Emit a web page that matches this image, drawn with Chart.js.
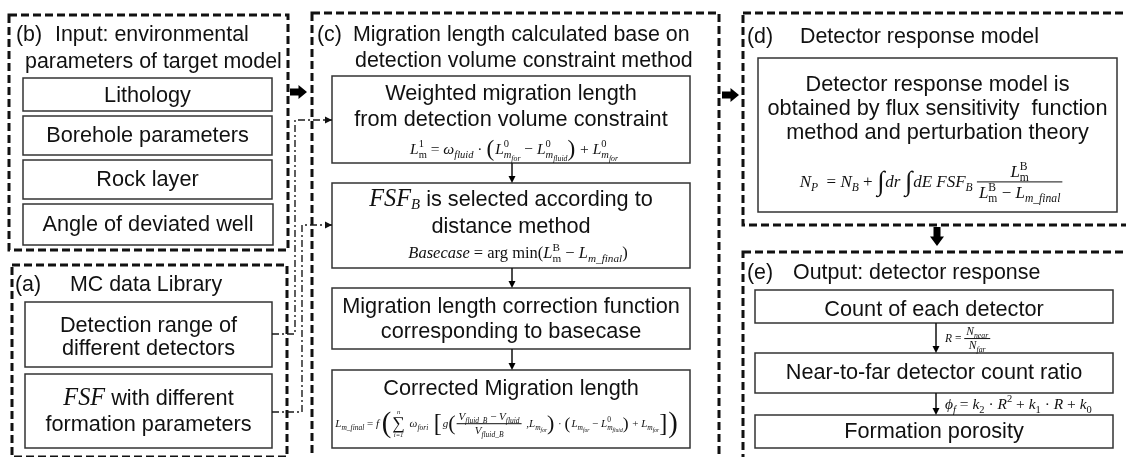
<!DOCTYPE html>
<html>
<head>
<meta charset="utf-8">
<script src="https://cdn.jsdelivr.net/npm/chart.js@4.4.0/dist/chart.umd.min.js"></script>
<style>
  html, body { margin: 0; padding: 0; background: #fff; }
  canvas { display: block; }
</style>
</head>
<body>
<canvas id="flowChart" width="1126" height="457"></canvas>
<script>
// ---- text content ----
const panelTags = ['(b)', '(a)', '(c)', '(d)', '(e)'];
const panelTitles = [
    ['Input: environmental', 'parameters of target model'],
    ['MC data Library'],
    ['Migration length calculated base on', 'detection volume constraint method'],
    ['Detector response model'],
    ['Output: detector response']
];
const inputItems = [['Lithology'], ['Borehole parameters'], ['Rock layer'], ['Angle of deviated well']];
const libraryItems = [
    ['Detection range of', 'different detectors'],
    [[['FSF', 'I'], [' with different', 'S']], 'formation parameters']
];
const migrationSteps = [
    ['Weighted migration length', 'from detection volume constraint'],
    [[['FSF', 'I'], ['B', 'b'], [' is selected according to', 'S']], 'distance method'],
    ['Migration length correction function', 'corresponding to basecase'],
    ['Corrected Migration length']
];
const responseText = ['Detector response model is', 'obtained by flux sensitivity  function', 'method and perturbation theory'];
const outputSteps = [['Count of each detector'], ['Near-to-far detector count ratio'], ['Formation porosity']];

// ---- formulas (segment lists) ----
const fWeighted = [['L','i'],['1','p'],['m','B'],[' = ','r'],['ω','i'],['fluid','b'],[' · ','r'],{big:'(',s:1.5},
    ['L','i'],['0','p'],['m','b'],['for','bb'],[' − ','r'],['L','i'],['0','p'],['m','b'],['fluid','bb'],{big:')',s:1.5},
    [' + ','r'],['L','i'],['0','p'],['m','b'],['for','bb']];
const fBasecase = [['Basecase','i'],[' = arg min(','r'],['L','i'],['B','p'],['m','B'],[' − ','r'],['L','i'],['m_final','b'],[')','r']];
const fResponse = [['N','i'],['P','b'],['  = ','r'],['N','i'],['B','b'],[' + ','r'],{big:'∫',s:1.6},['dr ','i'],{big:'∫',s:1.6},
    ['dE FSF','i'],['B','b'],[' ','r'],
    {frac:true, n:[['L','i'],['B','p'],['m','B']], d:[['L','i'],['B','p'],['m','B'],[' − ','r'],['L','i'],['m_final','b']]}];
const fCorrected = [['L','i'],['m_final','b'],[' = ','r'],['f','i'],[' ','r'],{big:'(',s:2.6},{sum:'∑',lo:'i=1',hi:'n'},[' ','r'],['ω','i'],['fori','b'],['  ','r'],{big:'[',s:2.2},
    ['g','i'],{big:'(',s:2.0},{frac:true, n:[['V','i'],['fluid_B','b'],[' − ','r'],['V','i'],['fluid','b']], d:[['V','i'],['fluid_B','b']]},
    [' ,','r'],['L','i'],['m','b'],['for','bb'],{big:')',s:2.0},[' · ','r'],{big:'(',s:1.6},['L','i'],['m','b'],['for','bb'],[' − ','r'],
    ['L','i'],['0','p'],['m','b'],['fluid','bb'],{big:')',s:1.6},[' + ','r'],['L','i'],['m','b'],['for','bb'],{big:']',s:2.2},{big:')',s:2.6}];
const fRatio = [['R','i'],[' = ','r'],{frac:true, n:[['N','i'],['near','b']], d:[['N','i'],['far','b']]}];
const fPorosity = [['ϕ','i'],['f','b'],[' = ','r'],['k','i'],['2','B'],[' · ','r'],['R','i'],['2','P'],[' + ','r'],['k','i'],['1','B'],[' · ','r'],['R','i'],[' + ','r'],['k','i'],['0','B']];

// ---- layout (diagram units = pixels of the reference) ----
const panelRects = [[9, 15, 288, 250], [12, 265, 287, 457], [312, 13, 719, 462], [743, 13, 1130, 225], [743, 252, 1130, 462]];
const tagPos = [[16, 35], [15, 285], [317, 35], [747, 37], [747, 273]];
const titlePos = [[[55, 35], [25, 62]], [[70, 285]], [[353, 35], [355, 61]], [[800, 37]], [[793, 273]]];

const inputBoxes = [[23, 78, 272, 111], [23, 116, 272, 155], [23, 160, 272, 199], [23, 204, 273, 245]];
const inputLineY = [[96], [136], [180], [225]];
const libraryBoxes = [[25, 302, 272, 367], [25, 374, 272, 448]];
const libraryLineY = [[326, 349], [399, 425]];
const stepBoxes = [[332, 76, 690, 163], [332, 183, 690, 268], [332, 288, 690, 349], [332, 370, 690, 448]];
const stepLineY = [[94, 120], [200, 227], [307, 332], [389]];
const responseBox = [758, 58, 1117, 212];
const responseLineY = [85, 109, 133];
const outputBoxes = [[755, 290, 1113, 323], [755, 353, 1113, 393], [755, 415, 1113, 448]];
const outputLineY = [310, 373, 432];

const formulaPlaces = [
    {f: fWeighted, cx: 514, y: 154, size: 15.5},
    {f: fBasecase, cx: 518, y: 258, size: 16.5},
    {f: fResponse, cx: 932, y: 187, size: 17},
    {f: fCorrected, cx: 507, y: 427, size: 11},
    {f: fRatio, x: 945, y: 342, size: 11.5},
    {f: fPorosity, x: 945, y: 409, size: 15.5}
];

const blockArrows = [[290, 92, 307, 92], [722, 95, 739, 95], [937, 227, 937, 246]];
const thinArrows = [[512, 163, 512, 183], [512, 268, 512, 288], [512, 349, 512, 370], [936, 323, 936, 353], [936, 393, 936, 415]];
const links = [
    [[272, 334], [295, 334], [295, 120], [332, 120]],
    [[272, 412], [302, 412], [302, 225], [332, 225]]
];

const SANS = '"Liberation Sans", Arial, sans-serif';
const SERIF = '"Liberation Serif", "Times New Roman", serif';
const STY = {
    S:  {fam: SANS, s: 1, dy: 0},
    I:  {fam: SERIF, it: true, s: 1.12, dy: 0},
    i:  {fam: SERIF, it: true, s: 1, dy: 0},
    r:  {fam: SERIF, s: 1, dy: 0},
    b:  {fam: SERIF, it: true, s: 0.68, dy: 0.25},
    B:  {fam: SERIF, s: 0.68, dy: 0.25},
    p:  {fam: SERIF, s: 0.68, dy: -0.42, hold: true},
    P:  {fam: SERIF, s: 0.68, dy: -0.42},
    bb: {fam: SERIF, it: true, s: 0.5, dy: 0.45}
};

function mathRun(ctx, items, x, y, size, draw) {
    let cx = x, pend = 0;
    for (const it of items) {
        if (Array.isArray(it)) {
            const st = STY[it[1]];
            ctx.font = (st.it ? 'italic ' : '') + (size * st.s).toFixed(1) + 'px ' + st.fam;
            const w = ctx.measureText(it[0]).width;
            if (draw) ctx.fillText(it[0], cx, y + st.dy * size);
            if (st.hold) { pend = Math.max(pend, w); continue; }
            cx += Math.max(w, pend); pend = 0;
        } else if (it.big) {
            const bs = size * it.s;
            ctx.font = bs.toFixed(1) + 'px ' + SERIF;
            const w = ctx.measureText(it.big).width;
            if (draw) ctx.fillText(it.big, cx, y + (bs - size) * 0.3);
            cx += w + 1;
        } else if (it.sum) {
            const bs = size * 1.6;
            ctx.font = bs.toFixed(1) + 'px ' + SERIF;
            const w = ctx.measureText(it.sum).width;
            if (draw) {
                ctx.fillText(it.sum, cx, y + size * 0.2);
                ctx.font = 'italic ' + (size * 0.6).toFixed(1) + 'px ' + SERIF;
                ctx.textAlign = 'center';
                ctx.fillText(it.hi, cx + w / 2, y - size * 1.15);
                ctx.fillText(it.lo, cx + w / 2, y + size * 0.9);
                ctx.textAlign = 'left';
            }
            cx += w + 2;
        } else if (it.frac) {
            const wn = mathRun(ctx, it.n, 0, 0, size, false);
            const wd = mathRun(ctx, it.d, 0, 0, size, false);
            const W = Math.max(wn, wd) + 4;
            if (draw) {
                const axis = y - size * 0.3;
                mathRun(ctx, it.n, cx + (W - wn) / 2, axis - size * 0.3, size, true);
                mathRun(ctx, it.d, cx + (W - wd) / 2, axis + size * 0.95, size, true);
                ctx.fillRect(cx, axis - 0.5, W, 1);
            }
            cx += W + 2;
        }
    }
    return cx - x;
}

function richLine(ctx, line, cx, y, size) {
    const segs = typeof line === 'string' ? [[line, 'S']] : line;
    const w = mathRun(ctx, segs, 0, 0, size, false);
    mathRun(ctx, segs, cx - w / 2, y, size, true);
}

const diagramPlugin = {
    id: 'diagram',
    afterDraw(chart) {
        const ctx = chart.ctx;
        const X = v => chart.scales.x.getPixelForValue(v);
        const Y = v => chart.scales.y.getPixelForValue(v);
        ctx.save();
        ctx.textBaseline = 'middle';
        ctx.fillStyle = '#111';
        ctx.strokeStyle = '#111';

        // dashed panels
        ctx.lineWidth = 3;
        ctx.setLineDash([8, 4]);
        panelRects.forEach(r => ctx.strokeRect(X(r[0]), Y(r[1]), X(r[2]) - X(r[0]), Y(r[3]) - Y(r[1])));
        ctx.setLineDash([]);

        // panel titles
        ctx.textAlign = 'left';
        ctx.font = '21.4px ' + SANS;
        panelTags.forEach((t, i) => {
            ctx.fillText(t, X(tagPos[i][0]), Y(tagPos[i][1]));
            panelTitles[i].forEach((line, j) => ctx.fillText(line, X(titlePos[i][j][0]), Y(titlePos[i][j][1])));
        });

        // solid boxes with centred text
        ctx.lineWidth = 1.5;
        ctx.strokeStyle = '#333';
        function boxes(rects, texts, ys) {
            rects.forEach((r, i) => {
                ctx.strokeRect(X(r[0]), Y(r[1]), X(r[2]) - X(r[0]), Y(r[3]) - Y(r[1]));
                texts[i].forEach((line, j) => richLine(ctx, line, X((r[0] + r[2]) / 2), Y(ys[i][j]), 21.7));
            });
        }
        boxes(inputBoxes, inputItems, inputLineY);
        boxes(libraryBoxes, libraryItems, libraryLineY);
        boxes(stepBoxes, migrationSteps, stepLineY);
        boxes([responseBox], [responseText], [responseLineY]);
        boxes(outputBoxes, outputSteps, outputLineY.map(v => [v]));

        // formulas
        ctx.textBaseline = 'alphabetic';
        ctx.textAlign = 'left';
        formulaPlaces.forEach(p => {
            const w = mathRun(ctx, p.f, 0, 0, p.size, false);
            const x0 = p.cx !== undefined ? X(p.cx) - w / 2 : X(p.x);
            mathRun(ctx, p.f, x0, Y(p.y), p.size, true);
        });

        // block arrows
        ctx.fillStyle = '#000';
        blockArrows.forEach(a => {
            const x0 = X(a[0]), y0 = Y(a[1]), x1 = X(a[2]), y1 = Y(a[3]);
            const len = Math.hypot(x1 - x0, y1 - y0);
            ctx.save();
            ctx.translate(x0, y0);
            ctx.rotate(Math.atan2(y1 - y0, x1 - x0));
            const head = len * 0.5;
            ctx.beginPath();
            ctx.moveTo(0, -3.5); ctx.lineTo(len - head, -3.5); ctx.lineTo(len - head, -7);
            ctx.lineTo(len, 0);
            ctx.lineTo(len - head, 7); ctx.lineTo(len - head, 3.5); ctx.lineTo(0, 3.5);
            ctx.closePath();
            ctx.fill();
            ctx.restore();
        });

        // thin arrows
        function arrowHead(x, y, ang) {
            ctx.save();
            ctx.translate(x, y);
            ctx.rotate(ang);
            ctx.beginPath();
            ctx.moveTo(0, 0); ctx.lineTo(-7, -3.5); ctx.lineTo(-7, 3.5);
            ctx.closePath();
            ctx.fill();
            ctx.restore();
        }
        ctx.strokeStyle = '#111';
        ctx.lineWidth = 1.5;
        thinArrows.forEach(a => {
            ctx.beginPath();
            ctx.moveTo(X(a[0]), Y(a[1]));
            ctx.lineTo(X(a[2]), Y(a[3]) - 6);
            ctx.stroke();
            arrowHead(X(a[2]), Y(a[3]), Math.PI / 2);
        });

        // dash-dot links from the library
        ctx.lineWidth = 1.4;
        ctx.strokeStyle = '#1a1a1a';
        ctx.fillStyle = '#111';
        links.forEach(pts => {
            ctx.setLineDash([7, 3, 2, 3]);
            ctx.beginPath();
            pts.forEach((p, k) => k ? ctx.lineTo(X(p[0]), Y(p[1])) : ctx.moveTo(X(p[0]), Y(p[1])));
            const last = pts[pts.length - 1];
            ctx.stroke();
            ctx.setLineDash([]);
            arrowHead(X(last[0]), Y(last[1]), 0);
        });

        ctx.restore();
    }
};

new Chart(document.getElementById('flowChart'), {
    type: 'scatter',
    data: { datasets: [] },
    options: {
        responsive: false,
        animation: false,
        layout: { padding: 0 },
        plugins: { legend: { display: false }, tooltip: { enabled: false } },
        scales: {
            x: { type: 'linear', min: 0, max: 1126, display: false },
            y: { type: 'linear', min: 0, max: 457, reverse: true, display: false }
        }
    },
    plugins: [diagramPlugin]
});
</script>
</body>
</html>
